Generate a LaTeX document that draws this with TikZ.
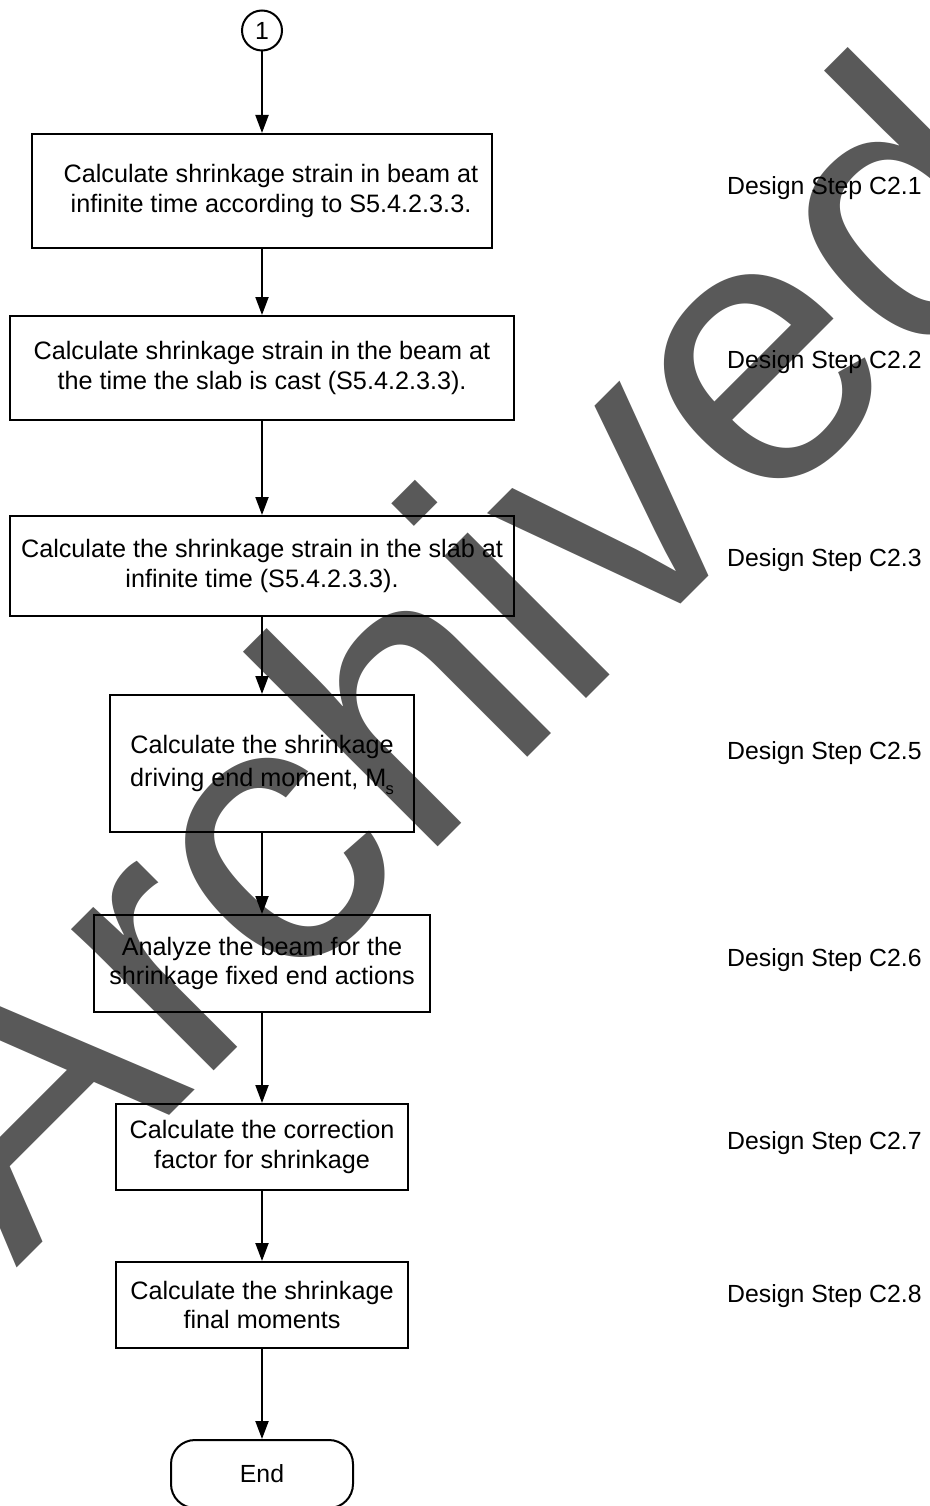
\documentclass[tikz,border=0pt]{standalone}
\usepackage{fontspec}
\setmainfont{Liberation Sans}
\usetikzlibrary{arrows.meta}
\definecolor{wmgray}{RGB}{89,89,89}
\tikzset{
  every node/.style={font=\fontsize{24.8}{29.3}\selectfont},
  stepbox/.style={draw, line width=2pt, rectangle, inner sep=0pt, align=center,
    font=\fontsize{25.2}{29.3}\selectfont},
  boxtext/.style={inner sep=0pt, align=center, font=\fontsize{25.2}{29.3}\selectfont},
  arr/.style={line width=2pt, -{Triangle[length=18pt,width=13pt]}},
  steplabel/.style={anchor=base west, inner sep=0pt},
}
\begin{document}
\begin{tikzpicture}[x=1pt,y=-1pt]
\useasboundingbox (0,0) rectangle (929,1506);
% watermark
\begin{scope}
\clip (0,0) rectangle (929,1506);
\node[rotate=45, anchor=base west, inner sep=0pt, text=wmgray,
      font=\fontsize{380}{380}\selectfont] (wm) at (16,1269) {Archived};
\end{scope}
% connector circle
\node[draw, circle, line width=2pt, minimum size=40pt, inner sep=0pt] (c1) at (262,30.5) {1};
% boxes
\node[stepbox, minimum width=460pt, minimum height=114pt] (b1) at (262,191) {};
\node[boxtext] (b1t) at (271,191)
  {Calculate shrinkage strain in beam at\\infinite time according to S5.4.2.3.3.};
\node[stepbox, minimum width=504pt, minimum height=104pt] (b2) at (262,368)
  {Calculate shrinkage strain in the beam at\\the time the slab is cast (S5.4.2.3.3).};
\node[stepbox, minimum width=504pt, minimum height=100pt] (b3) at (262,566)
  {Calculate the shrinkage strain in the slab at\\infinite time (S5.4.2.3.3).};
\node[stepbox, minimum width=304pt, minimum height=137pt] (b4) at (262,763.5)
  {Calculate the shrinkage\\[3.4pt]driving end moment, M\kern-1pt\raisebox{-8pt}[0pt][0pt]{\fontsize{16.5}{16.5}\selectfont s}};
\node[stepbox, minimum width=336pt, minimum height=97pt] (b5) at (262,963.5)
  {Analyze the beam for the\\shrinkage fixed end actions};
\node[stepbox, minimum width=292pt, minimum height=86pt] (b6) at (262,1147)
  {Calculate the correction\\factor for shrinkage};
\node[stepbox, minimum width=292pt, minimum height=86pt] (b7) at (262,1305)
  {Calculate the shrinkage\\final moments};
\node[draw, line width=2pt, rounded corners=24pt, minimum width=182pt, minimum height=68pt, inner sep=0pt] (end) at (262,1474) {End};
% connectors
\draw[arr] (c1) -- (b1);
\draw[arr] (b1) -- (b2);
\draw[arr] (b2) -- (b3);
\draw[arr] (b3) -- (b4);
\draw[arr] (b4) -- (b5);
\draw[arr] (b5) -- (b6);
\draw[arr] (b6) -- (b7);
\draw[arr] (b7) -- (end);
% design step labels
\node[steplabel] (s1) at (727,194.3) {Design Step C2.1};
\node[steplabel] (s2) at (727,368.3) {Design Step C2.2};
\node[steplabel] (s3) at (727,566.7) {Design Step C2.3};
\node[steplabel] (s5) at (727,759.3) {Design Step C2.5};
\node[steplabel] (s6) at (727,966.7) {Design Step C2.6};
\node[steplabel] (s7) at (727,1149) {Design Step C2.7};
\node[steplabel] (s8) at (727,1302.3) {Design Step C2.8};
\end{tikzpicture}
\end{document}
